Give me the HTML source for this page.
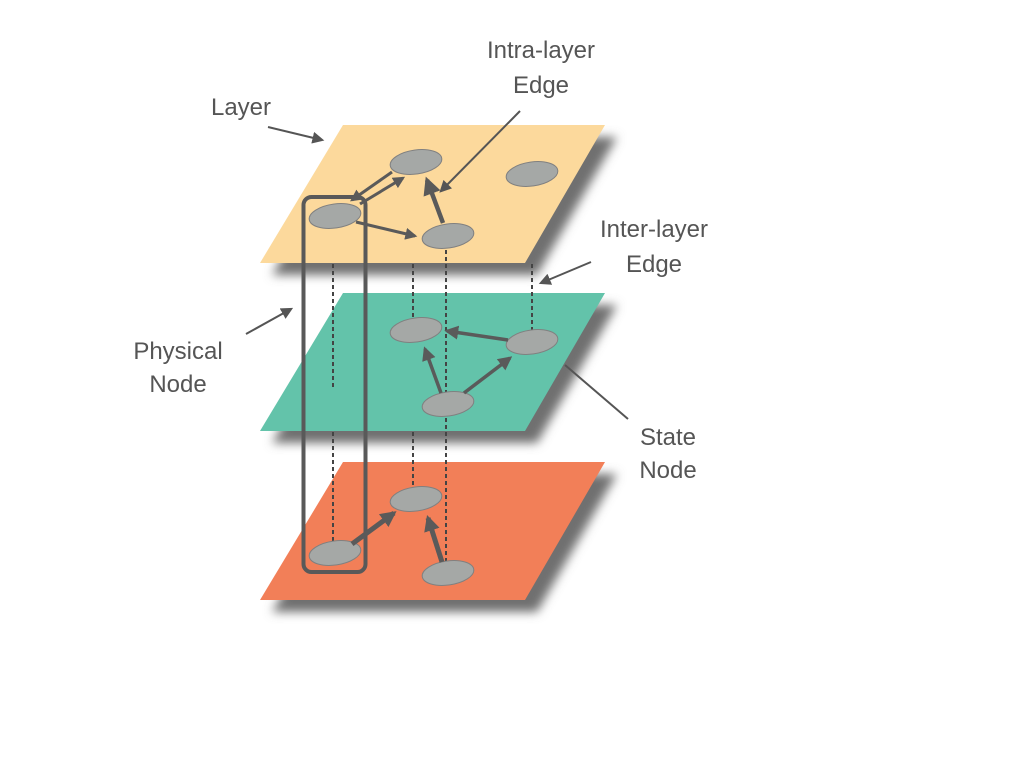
<!DOCTYPE html>
<html><head><meta charset="utf-8"><style>html,body{margin:0;padding:0;background:#fff}</style></head>
<body>
<svg width="1024" height="768" viewBox="0 0 1024 768" xmlns="http://www.w3.org/2000/svg">
<defs>
<filter id="sh" x="-20%" y="-20%" width="140%" height="150%"><feGaussianBlur stdDeviation="5"/></filter>
<marker id="ah" viewBox="0 0 10 10" refX="8" refY="5" markerWidth="4" markerHeight="4" orient="auto"><path d="M0,0 L10,5 L0,10 z" fill="#5a5a5a"/></marker>
<marker id="ah2" viewBox="0 0 10 10" refX="8" refY="5" markerWidth="3.2" markerHeight="3.2" orient="auto"><path d="M0,0 L10,5 L0,10 z" fill="#5a5a5a"/></marker>
<marker id="ahs" viewBox="0 0 10 10" refX="8" refY="5" markerWidth="6" markerHeight="6" orient="auto"><path d="M0,0 L10,5 L0,10 z" fill="#555"/></marker>
</defs>
<g fill="#707070" filter="url(#sh)">
<polygon points="355,137 617,137 537,275 272,275"/>
<polygon points="355,305 617,305 537,443 272,443"/>
<polygon points="355,474 617,474 537,612 272,612"/>
</g>
<polygon points="343,125 605,125 525,263 260,263" fill="#fcd99c"/>
<polygon points="343,293 605,293 525,431 260,431" fill="#63c3aa"/>
<polygon points="343,462 605,462 525,600 260,600" fill="#f27f58"/>
<g stroke="#444" stroke-width="2" stroke-dasharray="4,3">
<line x1="333" y1="264" x2="333" y2="390"/>
<line x1="333" y1="432" x2="333" y2="542"/>
<line x1="413" y1="264" x2="413" y2="325"/>
<line x1="413" y1="432" x2="413" y2="488"/>
<line x1="446" y1="243" x2="446" y2="405"/>
<line x1="446" y1="411" x2="446" y2="568"/>
<line x1="532" y1="264" x2="532" y2="332"/>
</g>
<rect x="303.5" y="197" width="62" height="375" rx="8" fill="none" stroke="#595959" stroke-width="4"/>
<g fill="#a5a8a6" stroke="#808080" stroke-width="1">
<ellipse cx="416" cy="162" rx="26" ry="12" transform="rotate(-8 416 162)"/>
<ellipse cx="532" cy="174" rx="26" ry="12" transform="rotate(-8 532 174)"/>
<ellipse cx="335" cy="216" rx="26" ry="12" transform="rotate(-8 335 216)"/>
<ellipse cx="448" cy="236" rx="26" ry="12" transform="rotate(-8 448 236)"/>
<ellipse cx="416" cy="330" rx="26" ry="12" transform="rotate(-8 416 330)"/>
<ellipse cx="532" cy="342" rx="26" ry="12" transform="rotate(-8 532 342)"/>
<ellipse cx="448" cy="404" rx="26" ry="12" transform="rotate(-8 448 404)"/>
<ellipse cx="416" cy="499" rx="26" ry="12" transform="rotate(-8 416 499)"/>
<ellipse cx="335" cy="553" rx="26" ry="12" transform="rotate(-8 335 553)"/>
<ellipse cx="448" cy="573" rx="26" ry="12" transform="rotate(-8 448 573)"/>
</g>
<g stroke="#5a5a5a" fill="none">
<line x1="360" y1="204" x2="403" y2="178" stroke-width="3" marker-end="url(#ah)"/>
<line x1="392" y1="172" x2="352" y2="200" stroke-width="3" marker-end="url(#ah)"/>
<line x1="356" y1="222" x2="415" y2="236" stroke-width="3" marker-end="url(#ah)"/>
<line x1="443" y1="223" x2="427" y2="180" stroke-width="4.5" marker-end="url(#ah)"/>
<line x1="508" y1="340" x2="447" y2="331" stroke-width="3.5" marker-end="url(#ah)"/>
<line x1="441" y1="393" x2="425" y2="349" stroke-width="3.5" marker-end="url(#ah)"/>
<line x1="464" y1="393" x2="510" y2="358" stroke-width="3.5" marker-end="url(#ah)"/>
<line x1="352" y1="544" x2="394" y2="513" stroke-width="5" marker-end="url(#ah2)"/>
<line x1="442" y1="562" x2="428" y2="518" stroke-width="5" marker-end="url(#ah2)"/>
</g>
<g stroke="#555" stroke-width="2" fill="none">
<line x1="268" y1="127" x2="322" y2="140" marker-end="url(#ahs)"/>
<line x1="520" y1="111" x2="441" y2="191" marker-end="url(#ahs)"/>
<line x1="591" y1="262" x2="541" y2="283" marker-end="url(#ahs)"/>
<line x1="246" y1="334" x2="291" y2="309" marker-end="url(#ahs)"/>
<line x1="628" y1="419" x2="565" y2="365"/>
</g>
<g font-family="Liberation Sans, sans-serif" font-size="24" fill="#555" text-anchor="middle">
<text x="241" y="115">Layer</text>
<text x="541" y="58">Intra-layer</text>
<text x="541" y="93">Edge</text>
<text x="654" y="237">Inter-layer</text>
<text x="654" y="272">Edge</text>
<text x="178" y="359">Physical</text>
<text x="178" y="392">Node</text>
<text x="668" y="445">State</text>
<text x="668" y="478">Node</text>
</g>
</svg>
</body></html>
